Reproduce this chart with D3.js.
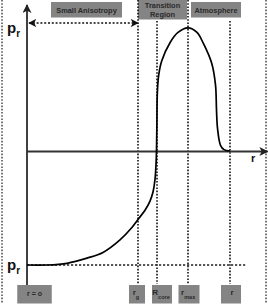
<!DOCTYPE html>
<html><head><meta charset="utf-8">
<script src="https://cdn.jsdelivr.net/npm/d3@7/dist/d3.min.js"></script>
<style>html,body{margin:0;padding:0;background:#fff;overflow:hidden}</style>
</head><body>
<svg id="c" width="268" height="304"></svg>
<script>
// ---- data (r in arbitrary units from r=0; p_r normalised so the bottom level = -1) ----
const curveR  = [0, 20, 40, 60, 76, 93, 104, 111, 118, 123, 126, 128, 129, 129.5, 129.9, 130.3, 131.6, 134.7, 143, 151, 161, 170, 176, 184.7, 188.5, 189.5, 190.5, 193.5, 197, 203];
const curvePr = [-1, -1, -0.985, -0.94, -0.89, -0.78, -0.68, -0.6, -0.52, -0.44, -0.36, -0.25, -0.12, 0, 0.25, 0.5, 0.66, 0.79, 0.95, 1.04, 1.08, 1.04, 0.95, 0.77, 0.58, 0.36, 0.2, 0.05, 0.012, 0];
const markerNames = ["g", "core", "max", ""];
const markerBase  = ["r", "R", "r", "r"];
const markerR     = [111, 130, 161, 203];
const regionNames = ["Small Anisotropy", "Transition Region", "Atmosphere"];
const regionStart = [24, 111, 164];
const regionEnd   = [95, 160, 214];
const originLabel = "r = o";
const axisLabelY = "p";
const axisLabelX = "r";

const svg = d3.select("#c");
const x = d3.scaleLinear().domain([0, 240]).range([27, 267]);
const y = d3.scaleLinear().domain([-1, 1]).range([265, 37]);
const FONT = "'Liberation Sans', Arial, sans-serif";

const defs = svg.append("defs");
function arrow(id, color, w, h) {
  defs.append("marker").attr("id", id).attr("viewBox", "0 0 10 10")
    .attr("refX", 9).attr("refY", 5).attr("markerUnits", "userSpaceOnUse")
    .attr("markerWidth", w).attr("markerHeight", h).attr("orient", "auto-start-reverse")
    .append("path").attr("d", "M0,0 L10,5 L0,10 L2.5,5 Z").attr("fill", color);
}
arrow("ax", "#222", 10, 9);
arrow("dar", "#111", 8, 8);

// side dotted borders
[2, 266].forEach(px => svg.append("line").attr("x1", px).attr("x2", px).attr("y1", 0).attr("y2", 304)
  .attr("stroke", "#555").attr("stroke-width", 1.6).attr("stroke-dasharray", "1.6,1.6"));

// region boxes (top)
regionNames.forEach((name, i) => {
  const x0 = x(regionStart[i]), x1 = x(regionEnd[i]);
  const tall = name.startsWith("Transition");
  const y0 = tall ? 0 : 2, h = tall ? 19.5 : 15.5;
  svg.append("rect").attr("x", x0).attr("y", y0).attr("width", x1 - x0).attr("height", h)
    .attr("fill", "#848484");
  const t = svg.append("text").attr("font-family", FONT).attr("font-size", 7.4).attr("font-weight", "bold")
    .attr("fill", "#2a2a2a").attr("text-anchor", "middle");
  if (tall) {
    const parts = name.split(" ");
    t.append("tspan").attr("x", (x0 + x1) / 2).attr("y", 8).text(parts[0]);
    t.append("tspan").attr("x", (x0 + x1) / 2).attr("y", 17).text(parts[1]);
  } else {
    t.attr("x", (x0 + x1) / 2).attr("y", 12.5).text(name);
  }
});

// vertical dotted marker lines
markerR.forEach((r, i) => {
  svg.append("line").attr("x1", x(r)).attr("x2", x(r))
    .attr("y1", i === 2 || i === 0 ? 0 : 21).attr("y2", 284)
    .attr("stroke", "#111").attr("stroke-width", 1.6).attr("stroke-dasharray", "1.6,1.6");
});

// bottom dotted level line
svg.append("line").attr("x1", x(0)).attr("x2", x(220)).attr("y1", y(-1)).attr("y2", y(-1))
  .attr("stroke", "#222").attr("stroke-width", 1.5).attr("stroke-dasharray", "2.2,1.8");

// double-headed dotted arrow over small anisotropy region
svg.append("line").attr("x1", x(2)).attr("x2", x(markerR[0])).attr("y1", 23).attr("y2", 23)
  .attr("stroke", "#111").attr("stroke-width", 1.5).attr("stroke-dasharray", "2,1.8")
  .attr("marker-start", "url(#dar)").attr("marker-end", "url(#dar)");

// axes via d3 axis generators
const xAxis = d3.axisBottom(x).tickValues([]).tickSizeOuter(0);
svg.append("g").attr("transform", `translate(0,${y(0)})`).call(xAxis)
  .select(".domain").attr("stroke", "#333").attr("stroke-width", 2).attr("marker-end", "url(#ax)");
const yScaleAxis = d3.scaleLinear().domain([-1.18, 1.28]).range([285, 5]);
const yAxis = d3.axisLeft(yScaleAxis).tickValues([]).tickSizeOuter(0);
svg.append("g").attr("transform", `translate(${x(0)},0)`).call(yAxis)
  .select(".domain").attr("stroke", "#111").attr("stroke-width", 1.6)
  .attr("d", `M0,${yScaleAxis(-1.18)}V${yScaleAxis(1.28)}`).attr("marker-end", "url(#ax)");

// curve
const pts = curveR.map((r, i) => [r, curvePr[i]]);
svg.append("path").datum(pts)
  .attr("d", d3.line().x(d => x(d[0])).y(d => y(d[1])).curve(d3.curveCatmullRom.alpha(0.5)))
  .attr("fill", "none").attr("stroke", "#000").attr("stroke-width", 1.7);

// axis labels p_r
[[y(1) - 4], [y(-1) + 5]].forEach(([yy]) => {
  const t = svg.append("text").attr("x", 7).attr("y", yy).attr("font-family", FONT)
    .attr("font-size", 15).attr("font-weight", "bold").attr("fill", "#111");
  t.append("tspan").text(axisLabelY);
  t.append("tspan").attr("font-size", 10).attr("dy", 4).text("r");
});
svg.append("text").attr("x", 251).attr("y", 162).attr("font-family", FONT).attr("font-size", 11)
  .attr("font-weight", "bold").attr("fill", "#111").text(axisLabelX);

// bottom boxes
function box(cx, w, build) {
  svg.append("rect").attr("x", cx - w / 2).attr("y", 285).attr("width", w).attr("height", 18.5).attr("fill", "#848484");
  const t = svg.append("text").attr("font-family", FONT).attr("font-weight", "bold").attr("fill", "#2a2a2a")
    .attr("text-anchor", "middle").attr("x", cx).attr("y", 296);
  build(t);
}
box(x(0) + 7.5, 34.5, t => t.attr("font-size", 7).text(originLabel));
const boxW = [16, 20, 21, 20];
markerR.forEach((r, i) => {
  const cx = i === 3 ? x(r) + 1 : (i === 0 ? x(r) - 1 : x(r) + (i === 1 ? 5 : 1));
  box(cx, boxW[i], t => {
    t.attr("text-anchor", "start");
    const base = markerBase[i], sub = markerNames[i];
    const wEst = 5 + sub.length * 3.6;
    t.attr("x", cx - wEst / 2 + (sub ? 0 : 2)).attr("y", 295);
    t.append("tspan").attr("font-size", 8).text(base);
    if (sub) t.append("tspan").attr("font-size", 5.5).attr("dy", 4).text(sub);
  });
});
</script>
</body></html>
